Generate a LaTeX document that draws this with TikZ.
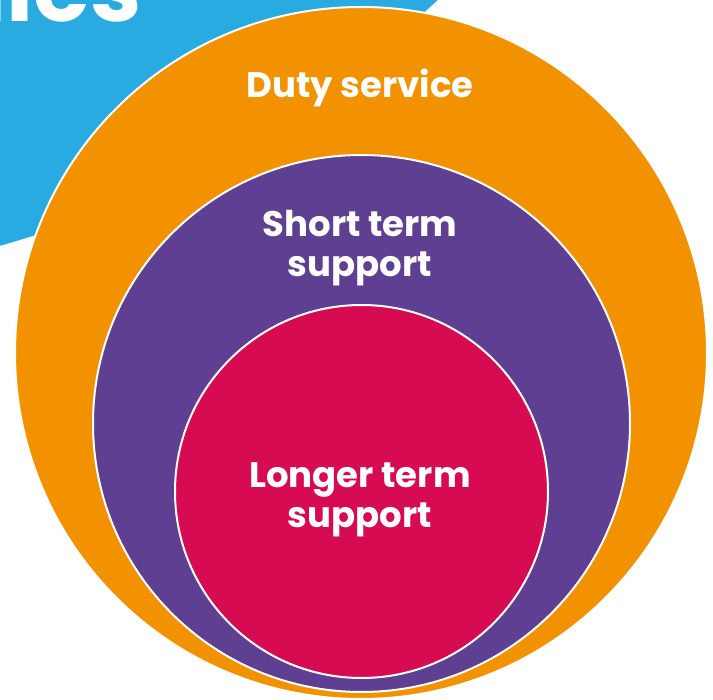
\documentclass[tikz,border=0pt]{standalone}
\usepackage{fontspec}
\setmainfont{Poppins}
\definecolor{skyblue}{HTML}{29ABE2}
\definecolor{dutyorange}{HTML}{F39200}
\definecolor{shortpurple}{HTML}{5F3F91}
\definecolor{longred}{HTML}{D70B52}
\tikzset{
  ring/.style={circle, inner sep=0pt, draw=white, line width=2pt},
  label/.style={text=white, font=\bfseries\fontsize{35.5}{40}\selectfont, align=center, anchor=base, inner sep=0pt}
}
\begin{document}
\begin{tikzpicture}[x=1pt,y=-1pt]
  \useasboundingbox (0,0) rectangle (713,700);
  \clip (0,0) rectangle (713,700);
  % large blue disc behind, top left
  \fill[skyblue] (-297,-797) circle[radius=1084];
  \node[text=white, font=\bfseries\fontsize{92}{92}\selectfont, anchor=base east, inner sep=0pt] (heading) at (142,22) {ilies};
  % nested service rings
  \node[ring, fill=dutyorange, minimum size=692pt] (duty) at (361,353) {};
  \node[ring, fill=shortpurple, minimum size=537pt] (short) at (361.5,423.5) {};
  \node[ring, fill=longred, minimum size=373pt] (long) at (361.5,491.5) {};
  % labels
  \node[label] (dutytext) at (360,98) {Duty service};
  \node[label] (shorttext) at (360,237) {Short term};
  \node[label] (shorttext2) at (360,277) {support};
  \node[label] (longtext) at (360,488) {Longer term};
  \node[label] (longtext2) at (360,528) {support};
\end{tikzpicture}
\end{document}
